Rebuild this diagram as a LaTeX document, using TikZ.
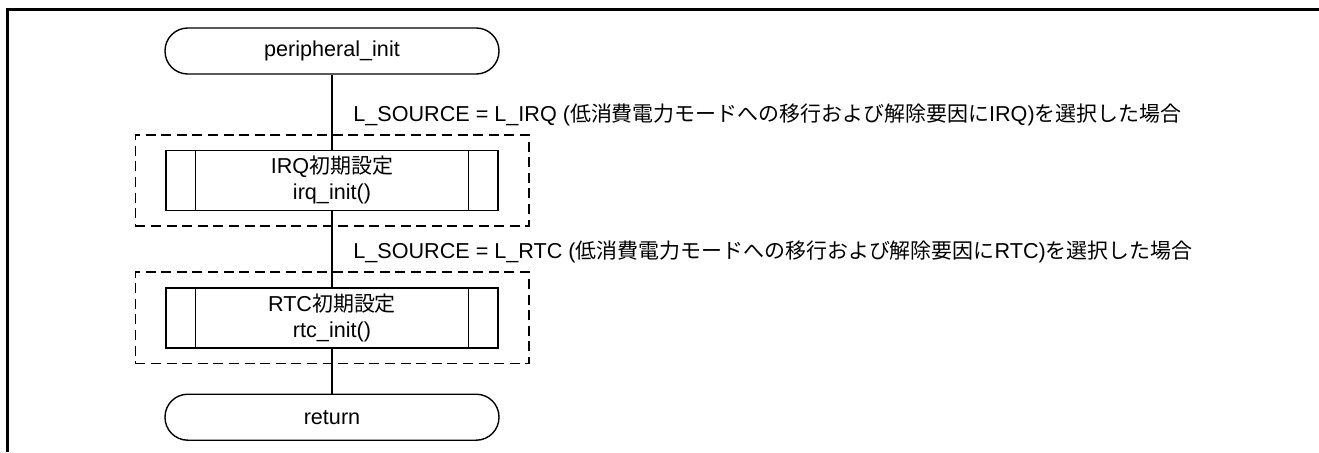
\documentclass[tikz,border=0pt]{standalone}
\usepackage{fontspec}
\setmainfont{Liberation Sans}
\newfontfamily\jpfont[Scale=0.97]{Noto Sans CJK JP}
\newcommand{\jp}[1]{{\jpfont #1}}
\usetikzlibrary{positioning, fit, calc}

\begin{document}
\begin{tikzpicture}[
  x=0.5pt, y=0.5pt,
  node distance=37.5pt,
  font=\fontsize{10.8pt}{13pt}\selectfont,
  term/.style={draw, rounded corners=11.4pt, minimum width=167pt, minimum height=23pt, line width=0.7pt},
  sub/.style={draw, minimum width=166pt, minimum height=30pt, inner ysep=1pt, align=center, line width=0.7pt},
  group/.style={draw, dash pattern=on 5pt off 2.8pt, inner xsep=15pt, inner ysep=7.5pt, line width=0.8pt},
  flow/.style={line width=0.7pt},
  cond/.style={anchor=west, inner sep=0pt},
  frame/.style={line width=1.5pt}
]
  \useasboundingbox (0,0) rectangle (1319,452);

  % Frame (top and left edges only)
  \draw[frame] (1319,442.5) -- (7.5,442.5) -- (7.5,0);

  % Nodes
  \node[term] (start) at (332,401) {peripheral\_init};
  \node[sub, below=of start] (irq) {IRQ\jp{初期設定}\\irq\_init()};
  \node[sub, below=38pt of irq] (rtc) {RTC\jp{初期設定}\\rtc\_init()};
  \node[term, below=22.5pt of rtc] (ret) {return};

  % Sub-routine side bars
  \draw[flow] ([xshift=15pt]irq.north west) -- ([xshift=15pt]irq.south west);
  \draw[flow] ([xshift=-15pt]irq.north east) -- ([xshift=-15pt]irq.south east);
  \draw[flow] ([xshift=15pt]rtc.north west) -- ([xshift=15pt]rtc.south west);
  \draw[flow] ([xshift=-15pt]rtc.north east) -- ([xshift=-15pt]rtc.south east);

  % Optional groups
  \node[group, fit=(irq)] (irqgrp) {};
  \node[group, fit=(rtc)] (rtcgrp) {};

  % Conditions
  \node[cond] (irqcond) at (353,337) {L\_SOURCE = L\_IRQ (\jp{低消費電力モードへの移行および解除要因に}IRQ)\jp{を選択した場合}};
  \node[cond] (rtccond) at (353,200) {L\_SOURCE = L\_RTC (\jp{低消費電力モードへの移行および解除要因に}RTC)\jp{を選択した場合}};

  % Flow
  \draw[flow] (start) -- (irq);
  \draw[flow] (irq) -- (rtc);
  \draw[flow] (rtc) -- (ret);
\end{tikzpicture}
\end{document}
